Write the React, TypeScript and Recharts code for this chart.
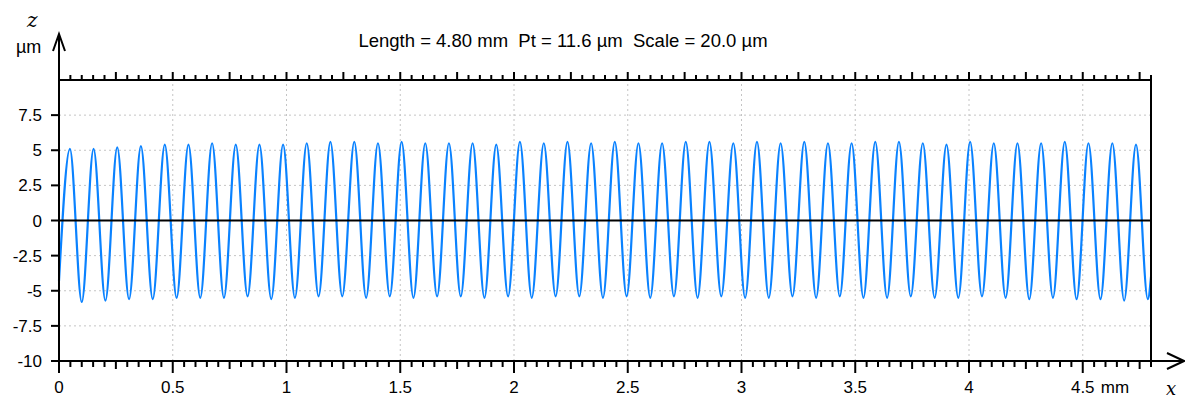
import { LineChart, Line, XAxis, YAxis, ReferenceLine } from 'recharts';

// surface profile: crest and valley positions (mm) and heights (µm)
const peakX = [
  0.048, 0.152, 0.256, 0.36, 0.465, 0.569, 0.673, 0.777, 0.881, 0.985,
  1.089, 1.193, 1.298, 1.402, 1.506, 1.61, 1.714, 1.818, 1.922, 2.026,
  2.131, 2.235, 2.339, 2.443, 2.547, 2.651, 2.755, 2.859, 2.964, 3.068,
  3.172, 3.276, 3.38, 3.484, 3.588, 3.692, 3.797, 3.901, 4.005, 4.109,
  4.213, 4.317, 4.421, 4.525, 4.63, 4.734,
];
const peakZ = [
  5.1, 5.1, 5.2, 5.3, 5.4, 5.4, 5.5, 5.4, 5.4, 5.4,
  5.5, 5.6, 5.6, 5.5, 5.6, 5.5, 5.5, 5.5, 5.4, 5.6,
  5.5, 5.6, 5.5, 5.6, 5.5, 5.5, 5.6, 5.6, 5.5, 5.6,
  5.5, 5.6, 5.5, 5.5, 5.6, 5.6, 5.5, 5.4, 5.6, 5.5,
  5.5, 5.5, 5.6, 5.5, 5.5, 5.4,
];
const troughX = [
  0.1, 0.204, 0.308, 0.412, 0.517, 0.621, 0.725, 0.829, 0.933, 1.037,
  1.141, 1.245, 1.35, 1.454, 1.558, 1.662, 1.766, 1.87, 1.974, 2.078,
  2.183, 2.287, 2.391, 2.495, 2.599, 2.703, 2.807, 2.911, 3.016, 3.12,
  3.224, 3.328, 3.432, 3.536, 3.64, 3.744, 3.849, 3.953, 4.057, 4.161,
  4.265, 4.369, 4.473, 4.578, 4.682, 4.786,
];
const troughZ = [
  -5.8, -5.7, -5.6, -5.6, -5.5, -5.5, -5.5, -5.4, -5.6, -5.5,
  -5.4, -5.4, -5.5, -5.4, -5.5, -5.4, -5.4, -5.5, -5.4, -5.5,
  -5.4, -5.4, -5.5, -5.4, -5.5, -5.4, -5.5, -5.4, -5.5, -5.5,
  -5.4, -5.5, -5.4, -5.5, -5.5, -5.4, -5.5, -5.5, -5.4, -5.5,
  -5.6, -5.5, -5.6, -5.6, -5.7, -5.6,
];
const startZ = -4.3;
const endZ = -4.0;

const yTicks = [-10, -7.5, -5, -2.5, 0, 2.5, 5, 7.5];
const yGrid = [-7.5, -5, -2.5, 2.5, 5, 7.5];
const xGrid = [0.5, 1, 1.5, 2, 2.5, 3, 3.5, 4, 4.5];
const xTicks = Array.from({ length: 97 }, (_, i) => Math.round(i * 5) / 100);

const profile = [{ x: 0, z: startZ }];
peakX.forEach((px, i) => {
  profile.push({ x: px, z: peakZ[i] });
  profile.push({ x: troughX[i], z: troughZ[i] });
});
profile.push({ x: 4.8, z: endZ });

const font = 'Liberation Sans, Arial, sans-serif';
const isStep = (v: number, s: number) => Math.abs(v / s - Math.round(v / s)) < 1e-6;

function BottomTick({ x, y, payload }: any) {
  const v = payload.value as number;
  const major = isStep(v, 0.5);
  const len = major ? 12 : isStep(v, 0.25) ? 8 : 6;
  return (
    <g>
      <line x1={x} x2={x} y1={y} y2={y + len} stroke='#000' strokeWidth={2} />
      {major && (
        <text x={x} y={y + 32} textAnchor='middle' fontSize={17} fontFamily={font} fill='#000'>
          {String(v)}
        </text>
      )}
      {v === 4.5 && (
        <text x={x + 18} y={y + 32} fontSize={17} fontFamily={font} fill='#000'>
          mm
        </text>
      )}
    </g>
  );
}

function TopTick({ x, y, payload }: any) {
  const len = isStep(payload.value, 0.25) ? 8 : 5;
  return <line x1={x} x2={x} y1={y} y2={y - len} stroke='#000' strokeWidth={2} />;
}

function LeftTick({ x, y, payload }: any) {
  return (
    <g>
      <line x1={x - 8} x2={x} y1={y} y2={y} stroke='#000' strokeWidth={2} />
      <text x={x - 17} y={y + 6} textAnchor='end' fontSize={17} fontFamily={font} fill='#000'>
        {String(payload.value)}
      </text>
    </g>
  );
}

function RightTick({ x, y }: any) {
  return <line x1={x} x2={x + 8} y1={y} y2={y} stroke='#000' strokeWidth={2} />;
}

export default function App() {
  return (
    <div style={{ position: 'absolute', left: 0, top: 0, width: 1185, height: 401 }}>
      <LineChart width={1185} height={401} data={profile} margin={{ top: 70, right: 0, bottom: 0, left: 0 }}>
        <XAxis
          dataKey='x'
          type='number'
          domain={[0, 4.8]}
          ticks={xTicks}
          interval={0}
          height={40}
          tickSize={0}
          tickMargin={0}
          tick={<BottomTick />}
          axisLine={{ stroke: '#000', strokeWidth: 2 }}
        />
        <XAxis
          xAxisId='top'
          orientation='top'
          dataKey='x'
          type='number'
          domain={[0, 4.8]}
          ticks={xTicks}
          interval={0}
          height={10}
          tickSize={0}
          tickMargin={0}
          tick={<TopTick />}
          axisLine={{ stroke: '#000', strokeWidth: 2 }}
        />
        <YAxis
          type='number'
          domain={[-10, 10]}
          ticks={yTicks}
          interval={0}
          width={59}
          tickSize={0}
          tickMargin={0}
          tick={<LeftTick />}
          axisLine={{ stroke: '#000', strokeWidth: 2 }}
        />
        <YAxis
          yAxisId='right'
          orientation='right'
          type='number'
          domain={[-10, 10]}
          ticks={yGrid}
          interval={0}
          width={34}
          tickSize={0}
          tickMargin={0}
          tick={<RightTick />}
          axisLine={{ stroke: '#000', strokeWidth: 2 }}
        />
        {yGrid.map((v) => (
          <ReferenceLine key={'h' + v} y={v} stroke='#c4c4c4' strokeDasharray='2 3' />
        ))}
        {xGrid.map((v) => (
          <ReferenceLine key={'v' + v} x={v} stroke='#c4c4c4' strokeDasharray='2 3' />
        ))}
        <Line
          type='monotone'
          dataKey='z'
          stroke='#0a82ff'
          strokeWidth={2.2}
          dot={false}
          isAnimationActive={false}
        />
        <ReferenceLine y={0} stroke='#000' strokeWidth={2} />
      </LineChart>
      <svg
        width={1185}
        height={401}
        style={{ position: 'absolute', left: 0, top: 0, pointerEvents: 'none' }}
      >
        <text
          x={563}
          y={47}
          textAnchor='middle'
          fontSize={18.5}
          fontFamily={font}
          fill='#000'
          style={{ whiteSpace: 'pre' }}
        >
          {'Length = 4.80 mm  Pt = 11.6 µm  Scale = 20.0 µm'}
        </text>
        <line x1={59} x2={59} y1={81} y2={35} stroke='#000' strokeWidth={2} />
        <polyline points='53,51 59,34 65,51' fill='none' stroke='#000' strokeWidth={2} />
        <text x={27} y={27} fontSize={20} fontStyle='italic' fontFamily='DejaVu Serif, serif' fill='#000'>
          z
        </text>
        <text x={16} y={53} fontSize={18} fontFamily={font} fill='#000'>
          µm
        </text>
        <line x1={1150} x2={1183} y1={361} y2={361} stroke='#000' strokeWidth={2} />
        <polyline points='1167,353 1184,361 1167,369' fill='none' stroke='#000' strokeWidth={2} />
        <text x={1166} y={395} fontSize={18} fontStyle='italic' fontFamily='DejaVu Serif, serif' fill='#000'>
          x
        </text>
      </svg>
    </div>
  );
}
